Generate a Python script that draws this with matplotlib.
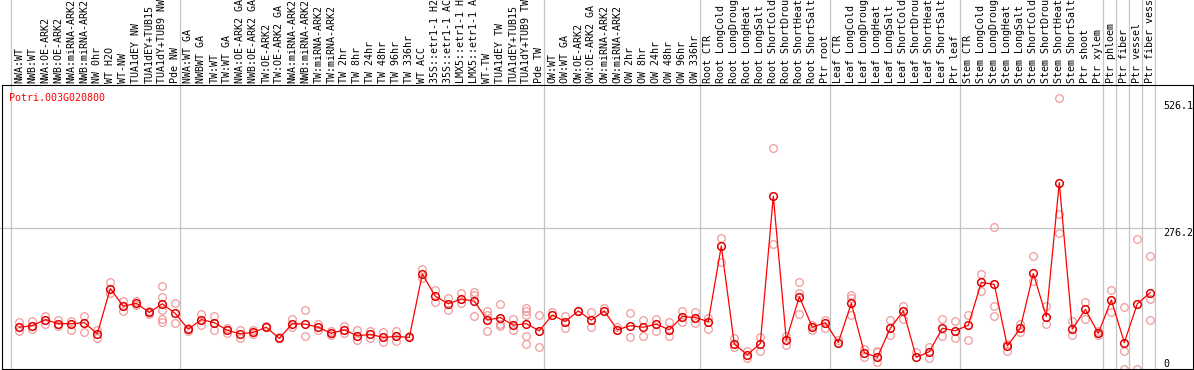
import matplotlib
matplotlib.use("Agg")
import matplotlib.pyplot as plt
import matplotlib.transforms as mtransforms

# sample labels (as shown, cut to 14 chars)
labels = [
    "NWA:WT", "NWB:WT", "NWA:OE-ARK2", "NWB:OE-ARK2", "NWA:miRNA-ARK2", "NWB:miRNA-ARK2",
    "NW 0hr", "WT H2O", "WT-NW", "TUA1dEY NW", "TUA1dEY+TUB15", "TUA1dY+TUB9 NW", "Pde NW",
    "NWA:WT GA", "NWBWT GA", "TW:WT", "TW:WT GA", "NWA:OE-ARK2 GA", "NWB:OE-ARK2 GA",
    "TW:OE-ARK2", "TW:OE-ARK2 GA", "NWA:miRNA-ARK2", "NWB:miRNA-ARK2", "TW:miRNA-ARK2",
    "TW:miRNA-ARK2", "TW 2hr", "TW 8hr", "TW 24hr", "TW 48hr", "TW 96hr", "TW 336hr",
    "WT ACC", "35S::etr1-1 H2", "35S::etr1-1 AC", "LMX5::etr1-1 H", "LMX5::etr1-1 A",
    "WT-TW", "TUA1dEY TW", "TUA1dEY+TUB15", "TUA1dY+TUB9 TW", "Pde TW",
    "OW:WT", "OW:WT GA", "OW:OE-ARK2", "OW:OE-ARK2 GA", "OW:miRNA-ARK2", "OW:miRNA-ARK2",
    "OW 2hr", "OW 8hr", "OW 24hr", "OW 48hr", "OW 96hr", "OW 336hr",
    "Root CTR", "Root LongCold", "Root LongDroug", "Root LongHeat", "Root LongSalt",
    "Root ShortCold", "Root ShortDrou", "Root ShortHeat", "Root ShortSalt", "Ptr root",
    "Leaf CTR", "Leaf LongCold", "Leaf LongDroug", "Leaf LongHeat", "Leaf LongSalt",
    "Leaf ShortCold", "Leaf ShortDrou", "Leaf ShortHeat", "Leaf ShortSalt", "Ptr leaf",
    "Stem CTR", "Stem LongCold", "Stem LongDroug", "Stem LongHeat", "Stem LongSalt",
    "Stem ShortCold", "Stem ShortDrou", "Stem ShortHeat", "Stem ShortSalt", "Ptr shoot",
    "Ptr xylem", "Ptr phloem", "Ptr fiber", "Ptr vessel", "Ptr fiber vess",
]
group_sizes = [13, 28, 12, 10, 10, 11, 1, 1, 1, 1]

mean_vals = [
    82, 85, 97, 89, 89, 91, 69, 158, 123, 129, 111, 128, 109,
    78, 97, 91, 76, 69, 72, 82, 60, 89, 88, 82, 70, 77, 65, 68, 62, 64, 62,
    186, 143, 128, 137.5, 133, 96, 101, 86, 89, 75,
    106, 93, 114, 96, 114, 77, 85, 82, 88, 77, 103, 101,
    93, 241.5, 49, 28, 50, 339, 57, 142, 82, 91,
    52, 129, 32, 23, 80, 114, 23, 34, 80, 75,
    86, 170, 166, 45, 80, 187.5, 103, 366, 78, 117, 70,
    135.5, 52, 128, 150,
]
rep_vals = [
    [93, 74], [95, 79], [104, 89], [97, 84], [94, 77], [105, 73], [76, 60],
    [170, 150], [133, 114], [133, 126], [114, 107], [163, 142, 116, 99, 93], [129, 91],
    [75, 80], [107, 87], [104, 77], [80, 70], [77, 60], [77, 69], [84], [62],
    [99, 82.5], [115, 65], [88, 77], [74, 67], [84, 70], [77, 57], [74, 60], [72, 53],
    [75, 55], [65],
    [197, 178], [156, 131], [138.4, 115], [150, 129], [152, 145, 104], [113, 106, 75],
    [128, 89, 85], [99, 77], [119, 113, 106, 65, 50], [106, 44],
    [111], [104, 80], [114], [111, 82], [119], [82], [109, 62], [97, 65], [98, 74],
    [92, 64], [113, 92], [111, 90],
    [101, 79], [257, 210.6], [60, 44], [35, 21], [62, 36], [433, 244.5], [64, 48],
    [170, 149, 107], [86, 77], [97, 80],
    [57], [145, 138.4, 106], [40, 23], [36, 34, 13], [96, 66], [124, 98], [34],
    [44, 21], [99, 65], [94, 60],
    [106, 56], [186.5, 154], [278, 124, 104], [50, 36], [89, 72], [222, 172], [124, 89],
    [531, 304, 266], [95, 67], [131, 98], [74, 66],
    [155, 111], [121, 36, 0], [256, 0], [222, 136.5, 96],
]
tick_vals = [526.1, 276.2]
gene = "Potri.003G020800"

W, H = 1194, 370
left, right, top, bottom = 1.5, 1193, 85, 369
x0, step = 19.3, 13.0
ymax = 557.5

fig = plt.figure(figsize=(W / 100, H / 100), dpi=100)
ax = fig.add_axes([left / W, 1 - bottom / H, (right - left) / W, (bottom - top) / H])
n = len(labels)
ax.set_xlim(-(x0 - left) / step, (n - 1) + (right - (x0 + (n - 1) * step)) / step)
ax.set_ylim(0, ymax)
ax.set_xticks([])
ax.set_yticks([])
for s in ax.spines.values():
    s.set_color("black")
    s.set_linewidth(0.8)

mono = "DejaVu Sans Mono"
grey = "#c4c4c4"

# group separators, running up through the label band
b = 0
for g in [0] + group_sizes:
    b += g
    ax.axvline(b - 0.62, ymin=0, ymax=bottom / (bottom - top), color=grey,
               lw=0.9, clip_on=False, zorder=1)

ax.axhline(tick_vals[1], xmin=-left / (right - left), xmax=(1162 - left) / (right - left),
           color=grey, lw=0.9, clip_on=False, zorder=1)

for i, reps in enumerate(rep_vals):
    ax.plot([i] * len(reps), reps, "o", mfc="none", mec="#f09a9a", ms=5.5, mew=0.9, zorder=2)

xs = list(range(n))
ax.plot(xs, mean_vals, "-", color="#ff0000", lw=0.9, zorder=3)
ax.plot(xs, mean_vals, "o", mfc="none", mec="#e00000", ms=5.5, mew=1.1, zorder=4)

tr = mtransforms.blended_transform_factory(ax.transData, ax.transAxes)
ylab = (bottom - 83) / (bottom - top)
for i, lab in enumerate(labels):
    ax.text(i, ylab, lab, transform=tr, rotation=90, ha="center", va="bottom",
            family=mono, fontsize=7.2, color="black")

tr2 = mtransforms.blended_transform_factory(ax.transAxes, ax.transData)
xt = (1163 - left) / (right - left)
for v in tick_vals:
    ax.text(xt, v, f"{v:.1f}", transform=tr2, ha="left", va="top",
            family=mono, fontsize=7.2, color="black")
ax.text(xt, 0, "0", transform=tr2, ha="left", va="bottom", family=mono, fontsize=7.2)

ax.text((9.3 - left) / (right - left), (bottom - 92.7) / (bottom - top), gene,
        transform=ax.transAxes, ha="left", va="top", family=mono, fontsize=7.2,
        color="#ff0000")

fig.savefig("out.png", dpi=100)
